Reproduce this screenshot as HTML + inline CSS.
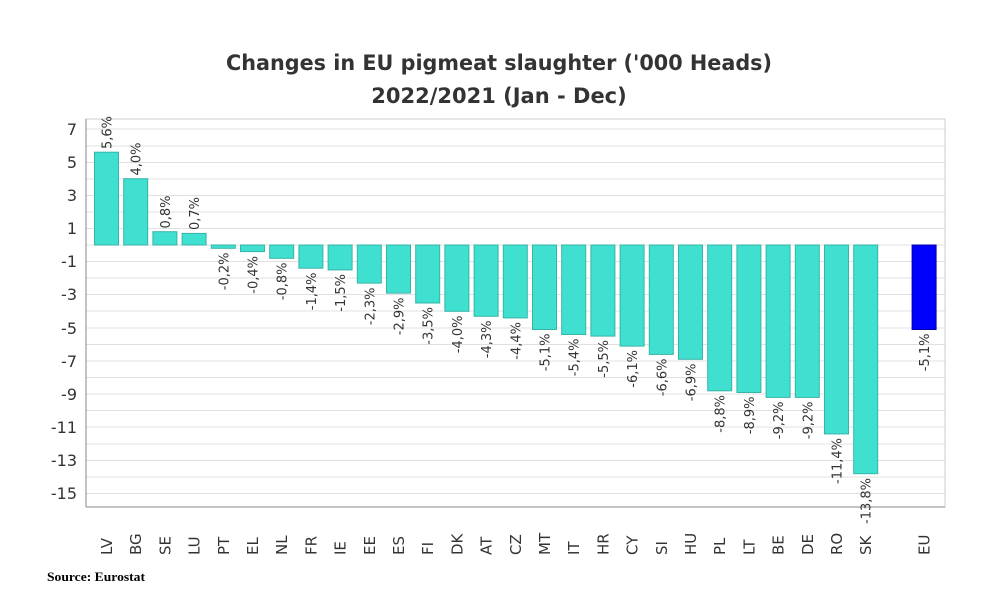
<!DOCTYPE html>
<html><head><meta charset="utf-8"><style>
html,body{margin:0;padding:0;background:#fff;}
svg{display:block;font-family:"DejaVu Sans","Liberation Sans",sans-serif;}
</style></head><body>
<svg width="992" height="602" viewBox="0 0 992 602" xmlns="http://www.w3.org/2000/svg">
<rect width="992" height="602" fill="#fff"/>
<text x="499" y="70" text-anchor="middle" font-size="21" font-weight="bold" fill="#333" textLength="546" lengthAdjust="spacingAndGlyphs">Changes in EU pigmeat slaughter ('000 Heads)</text>
<text x="499" y="103" text-anchor="middle" font-size="21" font-weight="bold" fill="#333">2022/2021 (Jan - Dec)</text>
<g stroke="#e0e0e0" stroke-width="1">
<line x1="86" x2="945" y1="129" y2="129"/><line x1="86" x2="945" y1="146" y2="146"/><line x1="86" x2="945" y1="162.5" y2="162.5"/><line x1="86" x2="945" y1="179" y2="179"/><line x1="86" x2="945" y1="195.5" y2="195.5"/><line x1="86" x2="945" y1="212" y2="212"/><line x1="86" x2="945" y1="228.5" y2="228.5"/><line x1="86" x2="945" y1="245" y2="245"/><line x1="86" x2="945" y1="261.5" y2="261.5"/><line x1="86" x2="945" y1="278" y2="278"/><line x1="86" x2="945" y1="294.5" y2="294.5"/><line x1="86" x2="945" y1="311" y2="311"/><line x1="86" x2="945" y1="328" y2="328"/><line x1="86" x2="945" y1="344.5" y2="344.5"/><line x1="86" x2="945" y1="361" y2="361"/><line x1="86" x2="945" y1="377.5" y2="377.5"/><line x1="86" x2="945" y1="394" y2="394"/><line x1="86" x2="945" y1="410.5" y2="410.5"/><line x1="86" x2="945" y1="427" y2="427"/><line x1="86" x2="945" y1="444" y2="444"/><line x1="86" x2="945" y1="460.5" y2="460.5"/><line x1="86" x2="945" y1="477" y2="477"/><line x1="86" x2="945" y1="493.5" y2="493.5"/>
</g>
<rect x="86" y="119" width="859" height="388" fill="none" stroke="#ccc"/>
<line x1="86" y1="119" x2="86" y2="507" stroke="#888"/>
<line x1="86" y1="507" x2="945" y2="507" stroke="#888"/>
<g font-size="16" fill="#333" text-anchor="end">
<text x="77" y="135">7</text><text x="77" y="168">5</text><text x="77" y="201">3</text><text x="77" y="234">1</text><text x="77" y="267">-1</text><text x="77" y="300">-3</text><text x="77" y="334">-5</text><text x="77" y="367">-7</text><text x="77" y="400">-9</text><text x="77" y="433">-11</text><text x="77" y="466">-13</text><text x="77" y="499">-15</text>
</g>
<g fill="#40e0d0" stroke="#35b5a8" stroke-width="1">
<rect x="94.5" y="152.2" width="24" height="92.8"/>
<rect x="123.7" y="178.7" width="24" height="66.3"/>
<rect x="152.9" y="231.7" width="24" height="13.3"/>
<rect x="182.1" y="233.4" width="24" height="11.6"/>
<rect x="211.3" y="245" width="24" height="3.3"/>
<rect x="240.5" y="245" width="24" height="6.6"/>
<rect x="269.7" y="245" width="24" height="13.3"/>
<rect x="298.9" y="245" width="24" height="23.2"/>
<rect x="328.1" y="245" width="24" height="24.9"/>
<rect x="357.3" y="245" width="24" height="38.1"/>
<rect x="386.5" y="245" width="24" height="48.1"/>
<rect x="415.7" y="245" width="24" height="58"/>
<rect x="444.9" y="245" width="24" height="66.3"/>
<rect x="474.1" y="245" width="24" height="71.3"/>
<rect x="503.3" y="245" width="24" height="72.9"/>
<rect x="532.5" y="245" width="24" height="84.5"/>
<rect x="561.7" y="245" width="24" height="89.5"/>
<rect x="590.9" y="245" width="24" height="91.1"/>
<rect x="620.1" y="245" width="24" height="101.1"/>
<rect x="649.3" y="245" width="24" height="109.4"/>
<rect x="678.5" y="245" width="24" height="114.3"/>
<rect x="707.7" y="245" width="24" height="145.8"/>
<rect x="736.9" y="245" width="24" height="147.5"/>
<rect x="766.1" y="245" width="24" height="152.4"/>
<rect x="795.3" y="245" width="24" height="152.4"/>
<rect x="824.5" y="245" width="24" height="188.9"/>
<rect x="853.7" y="245" width="24" height="228.7"/>
</g>
<rect x="912.1" y="245" width="24" height="84.5" fill="#0000ff" stroke="#0000aa"/>
<g font-size="13" fill="#333">
<text transform="translate(111.5,149) rotate(-90)">5,6%</text>
<text transform="translate(140.7,175.5) rotate(-90)">4,0%</text>
<text transform="translate(169.9,228.5) rotate(-90)">0,8%</text>
<text transform="translate(199.1,230) rotate(-90)">0,7%</text>
</g>
<g font-size="13" fill="#333" text-anchor="end">
<text transform="translate(228.3,252.5) rotate(-90)">-0,2%</text>
<text transform="translate(257.5,256) rotate(-90)">-0,4%</text>
<text transform="translate(286.7,262.5) rotate(-90)">-0,8%</text>
<text transform="translate(315.9,272.5) rotate(-90)">-1,4%</text>
<text transform="translate(345.1,274) rotate(-90)">-1,5%</text>
<text transform="translate(374.3,287.5) rotate(-90)">-2,3%</text>
<text transform="translate(403.5,297.5) rotate(-90)">-2,9%</text>
<text transform="translate(432.7,307) rotate(-90)">-3,5%</text>
<text transform="translate(461.9,315.5) rotate(-90)">-4,0%</text>
<text transform="translate(491.1,320.5) rotate(-90)">-4,3%</text>
<text transform="translate(520.3,322) rotate(-90)">-4,4%</text>
<text transform="translate(549.5,333.5) rotate(-90)">-5,1%</text>
<text transform="translate(578.7,338.5) rotate(-90)">-5,4%</text>
<text transform="translate(607.9,340) rotate(-90)">-5,5%</text>
<text transform="translate(637.1,350) rotate(-90)">-6,1%</text>
<text transform="translate(666.3,358.5) rotate(-90)">-6,6%</text>
<text transform="translate(695.5,363.5) rotate(-90)">-6,9%</text>
<text transform="translate(724.7,395) rotate(-90)">-8,8%</text>
<text transform="translate(753.9,396.5) rotate(-90)">-8,9%</text>
<text transform="translate(783.1,401.5) rotate(-90)">-9,2%</text>
<text transform="translate(812.3,401.5) rotate(-90)">-9,2%</text>
<text transform="translate(841.5,438) rotate(-90)">-11,4%</text>
<text transform="translate(870.7,478) rotate(-90)">-13,8%</text>
<text transform="translate(929.1,333.5) rotate(-90)">-5,1%</text>
</g>
<g font-size="15" fill="#333">
<text transform="translate(112,555) rotate(-90)">LV</text>
<text transform="translate(141.2,555) rotate(-90)">BG</text>
<text transform="translate(170.4,555) rotate(-90)">SE</text>
<text transform="translate(199.6,555) rotate(-90)">LU</text>
<text transform="translate(228.8,555) rotate(-90)">PT</text>
<text transform="translate(258,555) rotate(-90)">EL</text>
<text transform="translate(287.2,555) rotate(-90)">NL</text>
<text transform="translate(316.4,555) rotate(-90)">FR</text>
<text transform="translate(345.6,555) rotate(-90)">IE</text>
<text transform="translate(374.8,555) rotate(-90)">EE</text>
<text transform="translate(404,555) rotate(-90)">ES</text>
<text transform="translate(433.2,555) rotate(-90)">FI</text>
<text transform="translate(462.4,555) rotate(-90)">DK</text>
<text transform="translate(491.6,555) rotate(-90)">AT</text>
<text transform="translate(520.8,555) rotate(-90)">CZ</text>
<text transform="translate(550,555) rotate(-90)">MT</text>
<text transform="translate(579.2,555) rotate(-90)">IT</text>
<text transform="translate(608.4,555) rotate(-90)">HR</text>
<text transform="translate(637.6,555) rotate(-90)">CY</text>
<text transform="translate(666.8,555) rotate(-90)">SI</text>
<text transform="translate(696,555) rotate(-90)">HU</text>
<text transform="translate(725.2,555) rotate(-90)">PL</text>
<text transform="translate(754.4,555) rotate(-90)">LT</text>
<text transform="translate(783.6,555) rotate(-90)">BE</text>
<text transform="translate(812.8,555) rotate(-90)">DE</text>
<text transform="translate(842,555) rotate(-90)">RO</text>
<text transform="translate(871.2,555) rotate(-90)">SK</text>
<text transform="translate(929.6,555) rotate(-90)">EU</text>
</g>
<text x="47" y="581" font-family="'Liberation Serif',serif" font-size="13" font-weight="bold" fill="#000" textLength="98" lengthAdjust="spacingAndGlyphs">Source: Eurostat</text>
</svg>
</body></html>
